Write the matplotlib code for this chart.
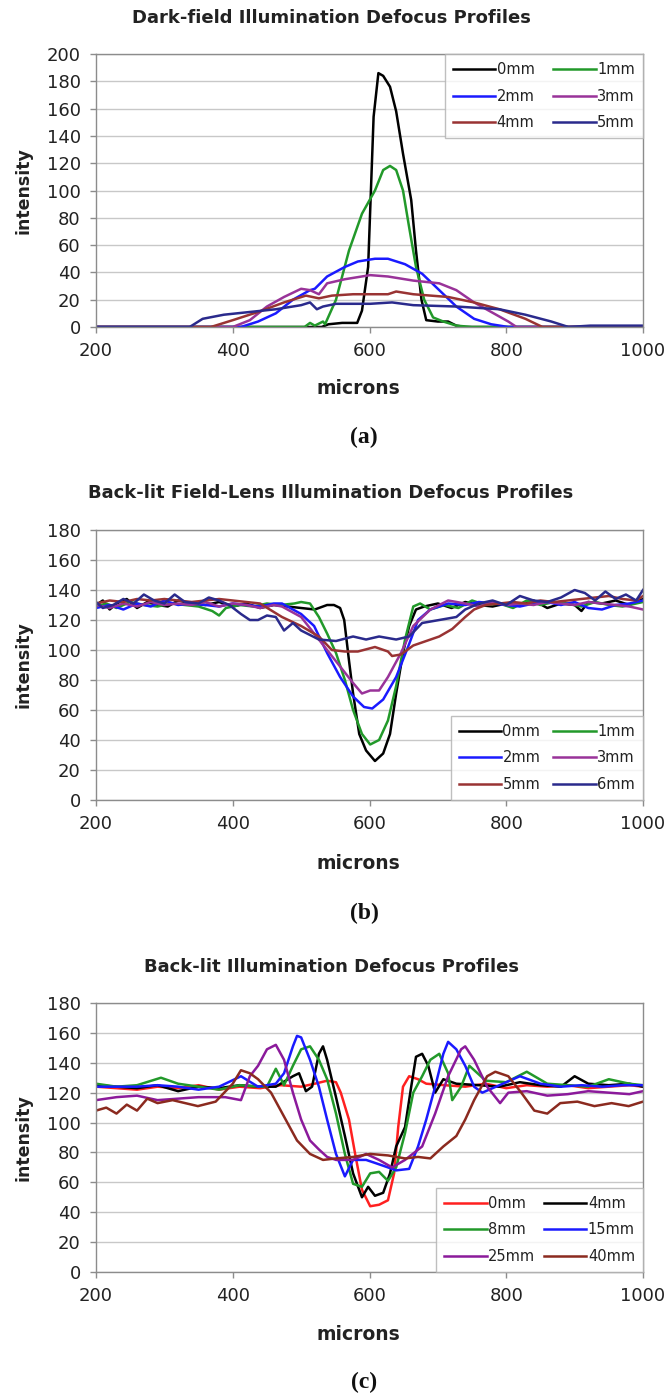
import matplotlib
matplotlib.use("Agg")
import matplotlib.pyplot as plt

plt.rcParams['font.family'] = ['DejaVu Sans']

# ---------------- Panel (a): Dark-field ----------------
a_title = "Dark-field Illumination Defocus Profiles"
a_labels = ["0mm", "1mm", "2mm", "3mm", "4mm", "5mm"]
a_colors = ["#000000", "#22992a", "#1a1aff", "#993399", "#993333", "#2a2a8c"]
a_x0 = [200, 530, 540, 560, 582, 589, 598, 606, 613, 620, 630, 639, 649, 655, 661, 668, 676, 683, 700, 715, 727, 740, 1000]
a_y0 = [0, 0, 2, 3, 3, 12, 44, 154, 186, 184, 176, 158, 127, 110, 93, 56, 20, 5, 4, 4, 1, 0, 0]
a_x1 = [200, 505, 513, 520, 532, 535, 551, 570, 589, 608, 620, 630, 639, 649, 658, 668, 680, 693, 708, 727, 750, 1000]
a_y1 = [0, 0, 3, 1, 4, 2, 20, 56, 83, 100, 115, 118, 115, 100, 73, 44, 20, 7, 4, 1, 0, 0]
a_x2 = [200, 412, 437, 463, 488, 513, 520, 530, 538, 564, 583, 608, 627, 652, 677, 702, 727, 753, 778, 803, 1000]
a_y2 = [0, 0, 4, 10, 20, 27, 28, 33, 37, 44, 48, 50, 50, 46, 39, 27, 15, 6, 2, 0, 0]
a_x3 = [200, 400, 425, 450, 475, 500, 513, 526, 538, 564, 601, 627, 664, 702, 727, 753, 778, 803, 815, 1000]
a_y3 = [0, 0, 5, 15, 22, 28, 27, 24, 32, 35, 38, 37, 34, 32, 27, 18, 11, 4, 0, 0]
a_x4 = [200, 368, 400, 437, 475, 507, 526, 545, 576, 627, 639, 664, 715, 753, 790, 828, 853, 1000]
a_y4 = [0, 0, 5, 11, 18, 23, 21, 23, 24, 24, 26, 24, 22, 18, 13, 6, 0, 0]
a_x5 = [200, 337, 356, 387, 425, 463, 500, 513, 523, 532, 551, 601, 633, 664, 727, 790, 828, 866, 891, 923, 1000]
a_y5 = [0, 0, 6, 9, 11, 13, 16, 18, 13, 15, 17, 17, 18, 16, 15, 13, 9, 4, 0, 1, 1]

# ---------------- Panel (b): Back-lit field-lens ----------------
b_title = "Back-lit Field-Lens Illumination Defocus Profiles"
b_labels = ["0mm", "1mm", "2mm", "3mm", "5mm", "6mm"]
b_colors = ["#000000", "#22992a", "#1a1aff", "#993399", "#993333", "#2a2a8c"]
b_x0 = [200, 210, 220, 230, 245, 260, 275, 290, 305, 320, 340, 360, 380, 400, 420, 440, 460, 480, 500, 520, 538, 548, 557, 563, 570, 576, 585, 595, 608, 620, 630, 639, 649, 658, 668, 680, 700, 720, 740, 760, 780, 800, 820, 840, 860, 880, 900, 910, 920, 940, 960, 980, 1000]
b_y0 = [130, 133, 127, 131, 134, 128, 132, 130, 129, 133, 131, 130, 132, 129, 131, 128, 130, 129, 128, 127, 130, 130, 128, 120, 93, 71, 44, 33, 26, 31, 44, 71, 98, 116, 127, 129, 131, 128, 132, 130, 129, 131, 130, 133, 128, 131, 130, 126, 132, 131, 133, 130, 134]
b_x1 = [200, 215, 230, 250, 270, 290, 310, 330, 350, 370, 380, 390, 410, 430, 450, 470, 490, 500, 513, 526, 538, 551, 564, 576, 589, 601, 614, 627, 639, 652, 664, 674, 689, 710, 730, 750, 770, 790, 810, 830, 850, 870, 890, 910, 930, 950, 970, 990, 1000]
b_y1 = [129, 131, 128, 132, 130, 129, 131, 130, 129, 126, 123, 128, 130, 129, 131, 130, 131, 132, 131, 122, 111, 98, 80, 60, 44, 37, 40, 53, 76, 107, 129, 131, 127, 130, 128, 133, 130, 131, 128, 133, 130, 132, 131, 129, 132, 130, 129, 131, 132]
b_x2 = [200, 220, 240, 260, 280, 300, 320, 340, 360, 380, 400, 420, 440, 460, 472, 500, 519, 538, 557, 576, 592, 604, 620, 639, 658, 671, 689, 715, 740, 760, 780, 800, 820, 840, 860, 880, 900, 920, 940, 960, 980, 1000]
b_y2 = [128, 130, 127, 131, 129, 133, 130, 131, 130, 129, 131, 130, 129, 131, 131, 124, 116, 98, 82, 69, 62, 61, 67, 82, 104, 120, 127, 131, 130, 132, 131, 130, 129, 131, 132, 130, 132, 128, 127, 130, 131, 133]
b_x3 = [200, 220, 240, 260, 280, 300, 320, 340, 360, 380, 400, 420, 440, 460, 472, 500, 519, 538, 557, 576, 589, 601, 614, 627, 646, 664, 689, 715, 740, 760, 780, 800, 820, 840, 860, 880, 900, 920, 940, 960, 980, 1000]
b_y3 = [130, 128, 131, 129, 132, 130, 131, 130, 132, 129, 131, 130, 128, 130, 129, 122, 111, 100, 89, 78, 71, 73, 73, 82, 98, 116, 127, 133, 131, 129, 132, 130, 131, 130, 132, 131, 130, 132, 131, 130, 129, 127]
b_x5 = [200, 220, 240, 260, 280, 300, 320, 340, 360, 380, 400, 420, 440, 447, 472, 500, 526, 545, 564, 583, 608, 627, 633, 646, 664, 683, 702, 721, 740, 753, 770, 790, 810, 830, 850, 870, 890, 910, 930, 950, 970, 990, 1000]
b_y5 = [131, 133, 132, 134, 133, 134, 133, 132, 133, 134, 133, 132, 131, 129, 122, 116, 109, 100, 99, 99, 102, 99, 96, 97, 103, 106, 109, 114, 122, 127, 130, 131, 132, 131, 133, 132, 133, 134, 135, 136, 134, 133, 136]
b_x6 = [200, 210, 225, 240, 255, 270, 285, 300, 315, 330, 350, 365, 380, 395, 412, 425, 437, 450, 463, 475, 488, 500, 526, 551, 576, 595, 614, 639, 658, 677, 702, 727, 740, 760, 780, 800, 820, 840, 860, 880, 900, 915, 930, 945, 960, 975, 990, 1000]
b_y6 = [132, 128, 130, 134, 131, 137, 133, 131, 137, 132, 131, 135, 133, 130, 124, 120, 120, 123, 122, 113, 118, 113, 107, 106, 109, 107, 109, 107, 109, 118, 120, 122, 127, 131, 133, 130, 136, 133, 132, 135, 140, 138, 133, 139, 134, 137, 133, 140]

# ---------------- Panel (c): Back-lit ----------------
c_title = "Back-lit Illumination Defocus Profiles"
c_labels = ["0mm", "4mm", "8mm", "15mm", "25mm", "40mm"]
c_colors = ["#ff2020", "#000000", "#22992a", "#1a1aff", "#8b1a9b", "#8b2a1f"]
c_x0 = [200, 230, 260, 290, 320, 350, 380, 410, 440, 470, 500, 520, 538, 551, 558, 570, 579, 589, 601, 614, 627, 636, 642, 649, 658, 671, 683, 710, 740, 770, 800, 830, 860, 890, 920, 950, 980, 1000]
c_y0 = [124, 123, 122, 124, 123, 125, 122, 124, 123, 125, 124, 126, 128, 127, 120, 102, 79, 55, 44, 45, 48, 66, 97, 124, 131, 129, 126, 125, 124, 126, 123, 125, 124, 125, 123, 124, 125, 124]
c_x1 = [200, 230, 260, 290, 320, 350, 380, 410, 440, 463, 488, 497, 507, 516, 526, 532, 538, 551, 564, 576, 589, 598, 608, 620, 630, 639, 652, 661, 668, 677, 686, 696, 708, 727, 760, 790, 820, 850, 880, 900, 920, 950, 980, 1000]
c_y1 = [125, 124, 123, 125, 121, 124, 123, 125, 124, 124, 131, 133, 121, 124, 146, 151, 142, 117, 91, 66, 50, 57, 51, 53, 66, 84, 97, 124, 144, 146, 138, 120, 129, 126, 125, 124, 127, 125, 124, 131, 126, 125, 126, 124]
c_x2 = [200, 230, 260, 295, 320, 350, 380, 410, 440, 450, 463, 475, 488, 500, 513, 526, 538, 551, 564, 576, 589, 601, 614, 627, 639, 652, 664, 677, 689, 702, 715, 721, 734, 746, 770, 800, 830, 860, 890, 920, 950, 980, 1000]
c_y2 = [126, 124, 125, 130, 126, 124, 122, 125, 124, 124, 136, 125, 138, 149, 151, 142, 129, 106, 79, 59, 57, 66, 67, 61, 70, 93, 120, 131, 142, 146, 133, 115, 124, 138, 128, 127, 134, 126, 125, 124, 129, 126, 125]
c_x3 = [200, 230, 260, 290, 320, 350, 380, 412, 437, 463, 475, 488, 494, 500, 513, 526, 538, 551, 564, 576, 595, 608, 627, 639, 658, 671, 683, 696, 708, 715, 727, 740, 753, 765, 790, 820, 850, 880, 910, 940, 970, 1000]
c_y3 = [124, 124, 124, 125, 124, 122, 124, 131, 124, 126, 133, 151, 158, 157, 142, 124, 102, 79, 64, 75, 75, 73, 70, 68, 69, 84, 102, 124, 146, 154, 149, 138, 124, 120, 125, 131, 126, 124, 125, 124, 125, 125]
c_x4 = [200, 230, 260, 290, 320, 350, 389, 412, 425, 437, 450, 463, 475, 488, 500, 513, 526, 538, 551, 576, 595, 614, 633, 652, 677, 696, 715, 734, 740, 753, 772, 791, 803, 830, 860, 890, 920, 950, 980, 1000]
c_y4 = [115, 117, 118, 115, 116, 117, 117, 115, 131, 138, 149, 152, 142, 120, 102, 88, 82, 77, 75, 75, 79, 75, 70, 75, 84, 106, 131, 149, 151, 142, 124, 113, 120, 121, 118, 119, 121, 120, 119, 121]
c_x5 = [200, 215, 230, 245, 260, 275, 290, 312, 349, 375, 400, 412, 425, 437, 456, 475, 494, 513, 532, 551, 576, 601, 627, 652, 671, 689, 708, 727, 740, 753, 772, 784, 803, 822, 841, 860, 879, 904, 929, 954, 979, 1000]
c_y5 = [108, 110, 106, 112, 108, 116, 113, 115, 111, 114, 126, 135, 133, 129, 120, 104, 88, 79, 75, 76, 77, 79, 78, 76, 77, 76, 84, 91, 102, 115, 131, 134, 131, 120, 108, 106, 113, 114, 111, 113, 111, 114]

x_ticks = [200, 400, 600, 800, 1000]

W, H = 667, 1397
fig = plt.figure(figsize=(W / 100, H / 100), dpi=100)

panels = [
    dict(title=a_title, labels=a_labels, colors=a_colors,
         xs=[a_x0, a_x1, a_x2, a_x3, a_x4, a_x5], ys=[a_y0, a_y1, a_y2, a_y3, a_y4, a_y5],
         top=54, bot=327, ymax=200, loc="upper right", anchor=(1.0, 1.0), colsp=1.3,
         title_y=18, xlab_y=388, tag="(a)", tag_y=437),
    dict(title=b_title, labels=b_labels, colors=b_colors,
         xs=[b_x0, b_x1, b_x2, b_x3, b_x5, b_x6], ys=[b_y0, b_y1, b_y2, b_y3, b_y5, b_y6],
         top=530, bot=800, ymax=180, loc="lower right", anchor=(1.0, 0.0), colsp=0.9,
         title_y=493, xlab_y=863, tag="(b)", tag_y=913),
    dict(title=c_title, labels=c_labels, colors=c_colors,
         xs=[c_x0, c_x1, c_x2, c_x3, c_x4, c_x5], ys=[c_y0, c_y1, c_y2, c_y3, c_y4, c_y5],
         top=1003, bot=1272, ymax=180, loc="lower right", anchor=(1.0, 0.0), colsp=0.6,
         title_y=967, xlab_y=1335, tag="(c)", tag_y=1382),
]

left_px, right_px = 96, 643
spine_col = "#8c8c8c"
grid_col = "#c8c8c8"
txt_col = "#222222"

for p in panels:
    ax = fig.add_axes([left_px / W, 1 - p["bot"] / H, (right_px - left_px) / W, (p["bot"] - p["top"]) / H])
    handles = []
    for xv, yv, c, lab in zip(p["xs"], p["ys"], p["colors"], p["labels"]):
        h, = ax.plot(xv, yv, color=c, lw=1.8, label=lab, solid_joinstyle="round")
        handles.append(h)
    ax.set_xlim(200, 1000)
    ax.set_ylim(0, p["ymax"])
    ax.set_xticks(x_ticks)
    ax.set_yticks(range(0, p["ymax"] + 1, 20))
    ax.yaxis.grid(True, color=grid_col, lw=1.0)
    ax.set_axisbelow(True)
    for s in ax.spines.values():
        s.set_color(spine_col)
        s.set_linewidth(1.0)
    ax.tick_params(axis="both", direction="out", length=4, width=1.0, color=spine_col,
                   labelsize=13, labelcolor=txt_col)
    ax.tick_params(axis="x", pad=7)
    ax.tick_params(axis="y", pad=7)
    order = [0, 2, 4, 1, 3, 5]
    leg = ax.legend([handles[i] for i in order], [p["labels"][i] for i in order],
                    ncol=2, loc=p["loc"], bbox_to_anchor=p["anchor"], borderaxespad=0.0,
                    fontsize=10.5, handlelength=2.9, handletextpad=0.1, columnspacing=p["colsp"],
                    labelspacing=0.8, frameon=True, fancybox=False, borderpad=0.55)
    leg.get_frame().set_edgecolor("#b0b0b0")
    leg.get_frame().set_linewidth(1.0)
    for t in leg.get_texts():
        t.set_color(txt_col)

    fig.text(331 / W, 1 - p["title_y"] / H, p["title"], ha="center", va="center",
             fontsize=13, fontweight="bold", color=txt_col)
    fig.text(358 / W, 1 - p["xlab_y"] / H, "microns", ha="center", va="center",
             fontsize=13.5, fontweight="bold", color=txt_col)
    fig.text(24 / W, 1 - (p["top"] + p["bot"]) / 2 / H, "intensity", ha="center", va="center",
             rotation=90, fontsize=12.5, fontweight="bold", color=txt_col)
    fig.text(364 / W, 1 - p["tag_y"] / H, p["tag"], ha="center", va="center",
             fontsize=17, fontweight="bold", family=["Liberation Serif", "DejaVu Serif"], color="#111111")

fig.savefig("out.png", dpi=100, facecolor="white")
